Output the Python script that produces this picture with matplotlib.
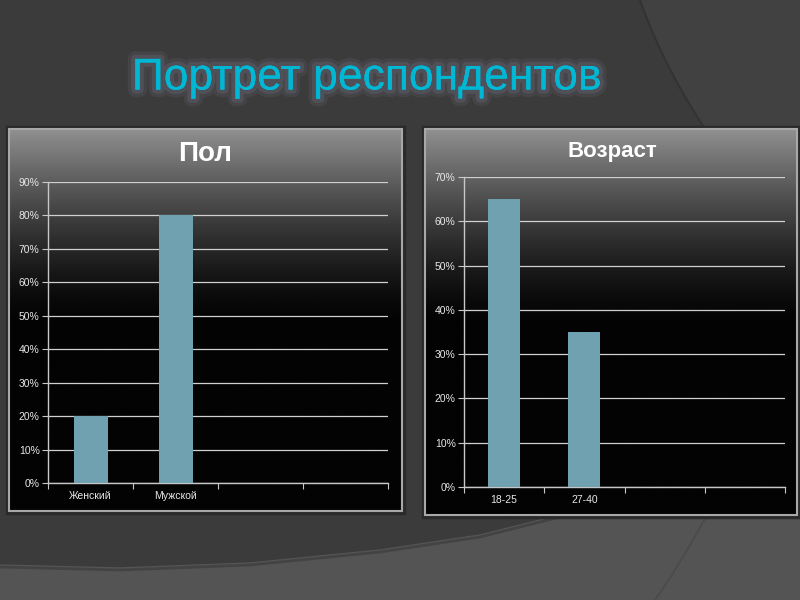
import numpy as np
import matplotlib
matplotlib.use("Agg")
import matplotlib.pyplot as plt
import matplotlib.patheffects as pe
from matplotlib.patches import Polygon, Rectangle
from matplotlib.ticker import PercentFormatter, FixedLocator

plt.rcParams['font.family'] = ['Liberation Sans', 'DejaVu Sans']

# data
slide_title = "Портрет респондентов"

gender_title = "Пол"
gender_labels = ["Женский", "Мужской"]
gender_values = [0.20, 0.80]

age_title = "Возраст"
age_labels = ["18-25", "27-40"]
age_values = [0.65, 0.35]

bar_color = "#6fa1b1"
text_color = "#e8e8e8"

fig = plt.figure(figsize=(8, 6), dpi=100)
fig.patch.set_facecolor("#3b3b3b")

# background layer in pixel coords (y down)
bg = fig.add_axes([0, 0, 1, 1])
bg.set_xlim(0, 800)
bg.set_ylim(600, 0)
bg.axis("off")
bg.set_facecolor("#3b3b3b")

# top-right lighter swoosh
yy = np.linspace(0, 300, 60)
xx = 640 + 0.35 * yy + 0.0012 * yy ** 2
bg.add_patch(Polygon(np.column_stack([np.r_[xx, 800, 800], np.r_[yy, 300, 0]]),
                     closed=True, color="#414141", zorder=0))
bg.plot(xx, yy, color="#333333", lw=1.5, zorder=0.2)
# bottom lighter swoosh
xs = np.array([0, 120, 250, 380, 480, 560, 640, 720, 800])
ys = np.array([565, 568, 563, 550, 535, 515, 490, 460, 420])
bg.add_patch(Polygon(np.column_stack([np.r_[xs, 800, 0], np.r_[ys, 600, 600]]),
                     closed=True, color="#545454", zorder=0.5))
bg.plot(xs, ys + 2, color="#333333", lw=2, alpha=0.5, zorder=0.55)
bg.plot([706, 690, 672, 655], [517, 545, 575, 600], color="#4a4a4a", lw=1.2, zorder=0.6)


def panel(x0, y0, x1, y1):
    h = y1 - y0
    tt = np.linspace(0, 1, 256)[:, None]
    v = np.where(tt < 0.5, 0.55 * (1 - tt / 0.5) ** 1.4, 0.0) + 0.015
    img = np.repeat(v, 2, axis=1)
    bg.add_patch(Rectangle((x0 - 2, y0 - 2), x1 - x0 + 4, h + 4, fill=False,
                           ec="#2a2a2a", lw=2.5, zorder=1))
    bg.imshow(img, cmap="gray", vmin=0, vmax=1, extent=(x0, x1, y1, y0),
              aspect="auto", zorder=1.5, interpolation="bilinear")
    bg.add_patch(Rectangle((x0, y0), x1 - x0, h, fill=False,
                           ec="#a8a8a8", lw=1.5, zorder=2))


panel(9, 129, 402, 511)
panel(425, 129, 797, 515)

bg.text(367, 78, slide_title, color="#00b7d4", fontsize=32, ha="center", va="center",
        zorder=3, path_effects=[pe.withStroke(linewidth=11, foreground="#55555f", alpha=0.35),
                                pe.withStroke(linewidth=6, foreground="#5c5c6c", alpha=0.5),
                                pe.Normal()])
bg.text(205, 154, gender_title, color="white", fontsize=20, fontweight="bold",
        ha="center", va="center", zorder=3)
bg.text(612, 152, age_title, color="white", fontsize=16, fontweight="bold",
        ha="center", va="center", zorder=3)


def bar_chart(rect, labels, values, ymax):
    ax = fig.add_axes(rect)
    ax.patch.set_alpha(0)
    n_slots = 4
    x = np.arange(len(values))
    ax.bar(x, values, width=0.4, color=bar_color, zorder=3)
    ax.set_xlim(-0.5, n_slots - 0.5)
    ax.set_ylim(0, ymax)
    ax.yaxis.set_major_locator(FixedLocator(np.arange(0, ymax + 0.001, 0.1)))
    ax.yaxis.set_major_formatter(PercentFormatter(1.0, decimals=0))
    ax.xaxis.set_major_locator(FixedLocator(np.arange(-0.5, n_slots, 1.0)))
    ax.xaxis.set_major_formatter(plt.NullFormatter())
    ax.xaxis.set_minor_locator(FixedLocator(x))
    ax.set_xticklabels(labels, minor=True)
    ax.tick_params(axis="x", which="minor", length=0, pad=6, labelsize=7.5, labelcolor=text_color)
    ax.tick_params(axis="x", which="major", length=4, color="#c8c8c8", direction="out")
    ax.tick_params(axis="y", length=4, color="#c8c8c8", labelsize=7.5, labelcolor=text_color, pad=2)
    ax.grid(axis="y", color="#d0d0d0", lw=0.9, zorder=1)
    for s in ["top", "right"]:
        ax.spines[s].set_visible(False)
    for s in ["left", "bottom"]:
        ax.spines[s].set_color("#c8c8c8")
        ax.spines[s].set_linewidth(1)
    return ax


bar_chart([48 / 800, 1 - 483 / 600, 340 / 800, 301 / 600], gender_labels, gender_values, 0.9)
bar_chart([464 / 800, 1 - 487 / 600, 321 / 800, 310 / 600], age_labels, age_values, 0.7)

fig.savefig("out.png", dpi=100, facecolor=fig.get_facecolor())
